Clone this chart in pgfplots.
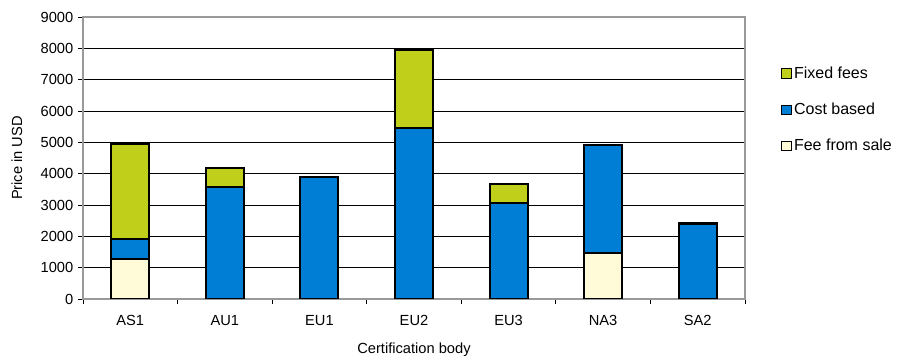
\documentclass[border=0pt]{standalone}
\usepackage{pgfplots}
\pgfplotsset{compat=1.18}
\usepackage{fontspec}
\setmainfont{Liberation Sans}
\definecolor{cgreen}{RGB}{191,207,26}
\definecolor{cblue}{RGB}{0,125,212}
\definecolor{ccream}{RGB}{255,250,216}
\begin{document}
\begin{tikzpicture}
\path (0pt,0pt) rectangle (674.25pt,268.5pt);
\begin{axis}[
  at={(62.25pt,44.25pt)}, anchor=south west,
  scale only axis, width=496.5pt, height=211.5pt,
  ybar stacked, bar width=28.5pt,
  xmin=-0.5, xmax=6.5, ymin=0, ymax=9000,
  xtick={0,...,6},
  xticklabels={AS1,AU1,EU1,EU2,EU3,NA3,SA2},
  minor xtick={-0.5,0.5,...,6.5},
  ytick={0,1000,...,9000},
  major x tick style={draw=none},
  minor tick length=3.75pt, major tick length=3.75pt,
  tick align=outside, tick pos=left,
  tick style={black, line width=0.6pt},
  ymajorgrids, major grid style={black, line width=0.6pt},
  axis line style={gray!80, line width=1pt},
  /pgf/number format/assume math mode=true,
  scaled y ticks=false,
  yticklabel style={/pgf/number format/set thousands separator={}},
  ticklabel style={font=\fontsize{11}{13}\selectfont},
  xticklabel style={yshift=-5pt},
  ylabel={Price in USD}, xlabel={Certification body},
  label style={font=\fontsize{11}{13}\selectfont},
  ylabel style={yshift=7pt},
  xlabel style={yshift=-6pt},
  reverse legend,
  legend cell align=left,
  legend style={draw=none, at={(1,1)}, anchor=north west, xshift=24pt, yshift=-33pt,
    font=\fontsize{12}{13}\selectfont, row sep=13pt},
  legend image code/.code={\draw[#1, line width=0.6pt] (-2pt,-3.5pt) rectangle (5pt,3.5pt);},
  every axis plot/.append style={draw=black, line width=1.5pt},
]
\addplot[fill=ccream, draw=black] coordinates {(0,1270) (1,0) (2,0) (3,0) (4,0) (5,1470) (6,0)};
\addplot[fill=cblue, draw=black] coordinates {(0,645) (1,3570) (2,3890) (3,5460) (4,3060) (5,3440) (6,2390)};
\addplot[fill=cgreen, draw=black] coordinates {(0,3035) (1,610) (2,0) (3,2490) (4,610) (5,0) (6,30)};
\legend{Fee from sale, Cost based, Fixed fees}
\end{axis}
\end{tikzpicture}
\end{document}
